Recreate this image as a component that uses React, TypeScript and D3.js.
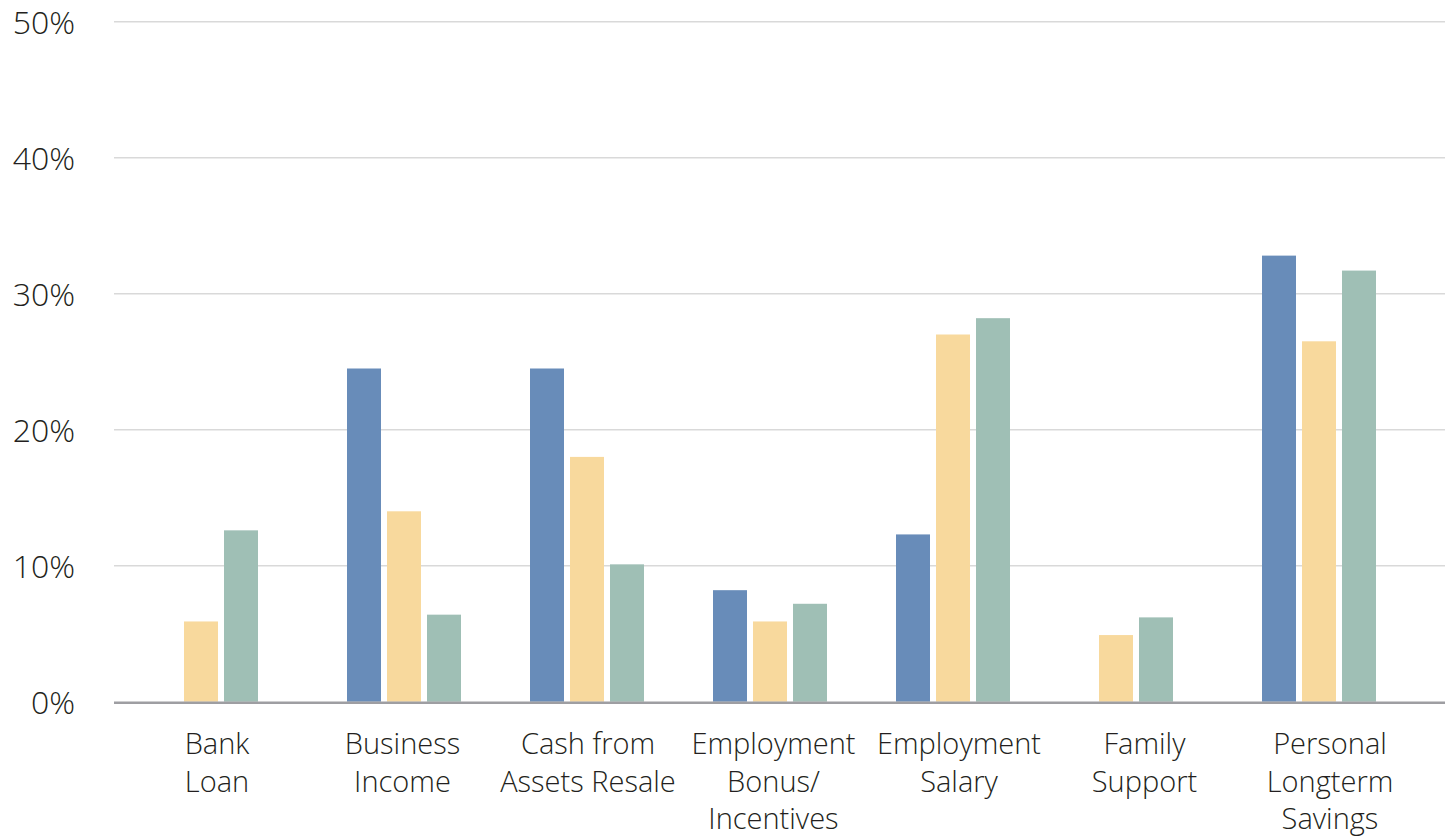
import React from "react";
import * as d3 from "d3";

const categories = [
  ["Bank", "Loan"],
  ["Business", "Income"],
  ["Cash from", "Assets Resale"],
  ["Employment", "Bonus/", "Incentives"],
  ["Employment", "Salary"],
  ["Family", "Support"],
  ["Personal", "Longterm", "Savings"],
];
const categoryKeys = categories.map((c) => c.join(" "));

const seriesNames = ["Series A", "Series B", "Series C"];
const seriesColors = ["#688cb9", "#f8d99d", "#9fbfb5"];

const seriesA = [null, 24.5, 24.5, 8.2, 12.3, null, 32.8];
const seriesB = [5.9, 14.0, 18.0, 5.9, 27.0, 4.9, 26.5];
const seriesC = [12.6, 6.4, 10.1, 7.2, 28.2, 6.2, 31.7];
const seriesValues = [seriesA, seriesB, seriesC];

const yTicks = [0, 10, 20, 30, 40, 50];

const W = 1449;
const H = 838;
const plotLeft = 114;
const plotRight = 1445;
const yTop = 21.7;
const yBottom = 701.7;

export default function App() {
  const y = d3.scaleLinear().domain([0, 50]).range([yBottom, yTop]);
  const xGroup = d3.scaleBand().domain(categoryKeys).range([129.5, 1410.5]).padding(0);
  const xLabel = d3.scalePoint().domain(categoryKeys).range([217, 1330]);
  const font = "'Open Sans', sans-serif";

  return (
    <svg
      width={W}
      height={H}
      style={{ position: "absolute", left: 0, top: 0, background: "#fff" }}
    >
      {yTicks.map((t) => (
        <g key={t}>
          {t !== 0 && (
            <line x1={plotLeft} x2={plotRight} y1={y(t)} y2={y(t)} stroke="#d9d9d9" strokeWidth={1.6} />
          )}
          <text
            x={75}
            y={y(t)}
            textAnchor="end"
            dominantBaseline="central"
            fontFamily={font}
            fontWeight={300}
            fontSize={32}
            fill="#231f20"
          >
            {t + "%"}
          </text>
        </g>
      ))}
      {categoryKeys.map((cat, ci) => {
        const present = seriesNames.filter((_, si) => seriesValues[si][ci] != null);
        const n = present.length;
        const inner = d3
          .scaleBand()
          .domain(present)
          .range([-n * 20, n * 20])
          .paddingInner(0.15)
          .paddingOuter(0.075);
        const cx = (xGroup(cat) as number) + xGroup.bandwidth() / 2;
        return (
          <g key={cat}>
            {seriesNames.map((s, si) => {
              const v = seriesValues[si][ci];
              if (v == null) return null;
              return (
                <rect
                  key={s}
                  x={cx + (inner(s) as number)}
                  width={inner.bandwidth()}
                  y={y(v)}
                  height={y(0) - y(v)}
                  fill={seriesColors[si]}
                />
              );
            })}
          </g>
        );
      })}
      <line x1={plotLeft} x2={plotRight} y1={y(0) + 1} y2={y(0) + 1} stroke="#9e9ea2" strokeWidth={2.5} />
      {categories.map((lines, ci) => (
        <text
          key={ci}
          x={xLabel(categoryKeys[ci])}
          textAnchor="middle"
          fontFamily={font}
          fontWeight={300}
          fontSize={29}
          fill="#231f20"
        >
          {lines.map((l, li) => (
            <tspan key={li} x={xLabel(categoryKeys[ci])} y={754 + li * 37.5}>
              {l}
            </tspan>
          ))}
        </text>
      ))}
    </svg>
  );
}
